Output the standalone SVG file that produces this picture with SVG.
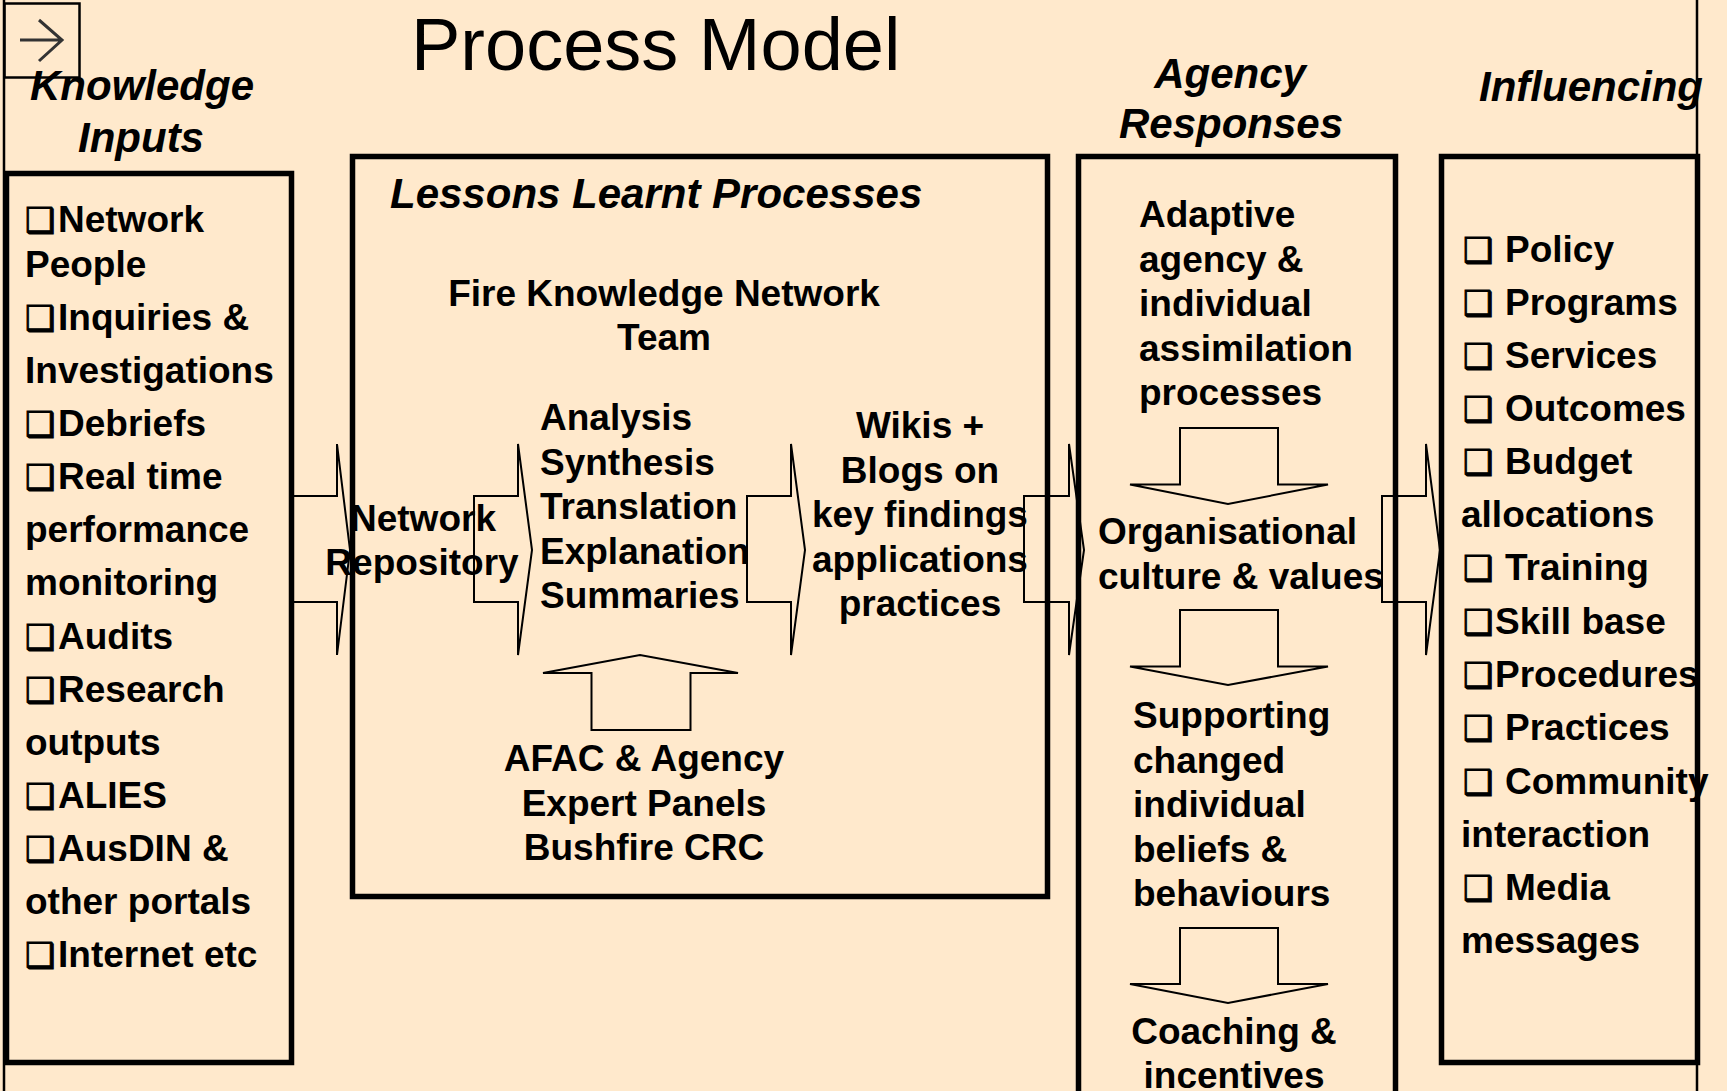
<svg xmlns="http://www.w3.org/2000/svg" width="1727" height="1091" viewBox="0 0 1727 1091">
<style>
text{font-family:"Liberation Sans",Arial,sans-serif;fill:#000}
.t{font-size:37px;font-weight:bold}
.h{font-size:42px;font-weight:bold;font-style:italic}
.c{text-anchor:middle}
.bul{font-family:"DejaVu Sans",sans-serif;font-weight:bold;font-size:34px;stroke:#000;stroke-width:1}
.box{fill:none;stroke:#000;stroke-width:5.5}
.blk{fill:none;stroke:#000;stroke-width:2;stroke-linejoin:miter}
.edge{stroke:#000;stroke-width:2.5}
</style>
<rect x="0" y="0" width="1727" height="1091" fill="#FFE9CC"/>
<line class="edge" x1="4" y1="0" x2="4" y2="1091"/>
<line class="edge" x1="1697" y1="0" x2="1697" y2="1091"/>

<g id="nav-button">
<rect x="4.5" y="3.5" width="75" height="74" fill="none" stroke="#000" stroke-width="2.5"/>
<path d="M20 40 H62 M39 20 L62 40 L39 61" fill="none" stroke="#333" stroke-width="3"/>
</g>

<g id="title">
<text x="411" y="70" font-size="74">Process Model</text>
</g>

<g id="header-knowledge">
<text class="h c" x="142" y="100">Knowledge</text>
<text class="h c" x="141" y="152">Inputs</text>
</g>
<g id="header-agency">
<text class="h c" x="1230" y="88">Agency</text>
<text class="h c" x="1231" y="138">Responses</text>
</g>
<g id="header-influencing">
<text class="h c" x="1591" y="101">Influencing</text>
</g>

<g id="connectors">
<polygon class="blk" points="293,496 337,496 337,444 350,550 337,655 337,602 293,602"/>
<polygon class="blk" points="474,496 518,496 518,444 532,550 518,655 518,602 474,602"/>
<polygon class="blk" points="747,496 791,496 791,444 805,550 791,655 791,602 747,602"/>
<polygon class="blk" points="1024,496 1069,496 1069,444 1084,550 1069,655 1069,602 1024,602"/>
<polygon class="blk" points="1382,496 1426,496 1426,444 1440,550 1426,655 1426,602 1382,602"/>
<polygon class="blk" points="591.5,730 690.5,730 690.5,673 738,673 640,655 543,673 591.5,673"/>
<polygon class="blk" points="1180,428 1278,428 1278,484.5 1328,484.5 1228,504 1130,484.5 1180,484.5"/>
<polygon class="blk" points="1180,610 1278,610 1278,666.5 1328,666.5 1228,685 1130,666.5 1180,666.5"/>
<polygon class="blk" points="1180,928 1278,928 1278,984 1328,984 1228,1003 1130,984 1180,984"/>
</g>

<g id="knowledge-inputs">
<rect class="box" x="6.5" y="173.5" width="285" height="889"/>
<text class="t" y="232"><tspan class="bul" x="25">❑</tspan><tspan x="58">Network</tspan></text>
<text class="t" x="25" y="277">People</text>
<text class="t" y="330"><tspan class="bul" x="25">❑</tspan><tspan x="58">Inquiries &amp;</tspan></text>
<text class="t" x="25" y="383">Investigations</text>
<text class="t" y="436"><tspan class="bul" x="25">❑</tspan><tspan x="58">Debriefs</tspan></text>
<text class="t" y="489"><tspan class="bul" x="25">❑</tspan><tspan x="58">Real time</tspan></text>
<text class="t" x="25" y="542">performance</text>
<text class="t" x="25" y="595">monitoring</text>
<text class="t" y="649"><tspan class="bul" x="25">❑</tspan><tspan x="58">Audits</tspan></text>
<text class="t" y="702"><tspan class="bul" x="25">❑</tspan><tspan x="58">Research</tspan></text>
<text class="t" x="25" y="755">outputs</text>
<text class="t" y="808"><tspan class="bul" x="25">❑</tspan><tspan x="58">ALIES</tspan></text>
<text class="t" y="861"><tspan class="bul" x="25">❑</tspan><tspan x="58">AusDIN &amp;</tspan></text>
<text class="t" x="25" y="914">other portals</text>
<text class="t" y="967"><tspan class="bul" x="25">❑</tspan><tspan x="58">Internet etc</tspan></text>
</g>

<g id="lessons-learnt">
<rect class="box" x="352.5" y="156.5" width="695" height="740"/>
<text class="h" x="390" y="208">Lessons Learnt Processes</text>
<text class="t c" x="664" y="306">Fire Knowledge Network</text>
<text class="t c" x="664" y="350">Team</text>
</g>

<g id="network-repository">
<text class="t c" x="423" y="531">Network</text>
<text class="t c" x="422" y="575">Repository</text>
</g>

<g id="analysis">
<text class="t" x="540" y="430">Analysis</text>
<text class="t" x="540" y="474.5">Synthesis</text>
<text class="t" x="540" y="519">Translation</text>
<text class="t" x="540" y="563.5">Explanation</text>
<text class="t" x="540" y="608">Summaries</text>
</g>

<g id="wikis-blogs">
<text class="t c" x="920" y="438">Wikis +</text>
<text class="t c" x="920" y="482.5">Blogs on</text>
<text class="t c" x="920" y="527">key findings</text>
<text class="t c" x="920" y="571.5">applications</text>
<text class="t c" x="920" y="616">practices</text>
</g>

<g id="expert-panels">
<text class="t c" x="644" y="771">AFAC &amp; Agency</text>
<text class="t c" x="644" y="816">Expert Panels</text>
<text class="t c" x="644" y="860">Bushfire CRC</text>
</g>

<g id="agency-responses">
<rect class="box" x="1078.5" y="156.5" width="317" height="1000"/>
</g>
<g id="adaptive">
<text class="t" x="1139" y="227">Adaptive</text>
<text class="t" x="1139" y="271.5">agency &amp;</text>
<text class="t" x="1139" y="316">individual</text>
<text class="t" x="1139" y="360.5">assimilation</text>
<text class="t" x="1139" y="405">processes</text>
</g>
<g id="organisational">
<text class="t" x="1098" y="544">Organisational</text>
<text class="t" x="1098" y="588.5">culture &amp; values</text>
</g>
<g id="supporting">
<text class="t" x="1133" y="728">Supporting</text>
<text class="t" x="1133" y="772.5">changed</text>
<text class="t" x="1133" y="817">individual</text>
<text class="t" x="1133" y="861.5">beliefs &amp;</text>
<text class="t" x="1133" y="906">behaviours</text>
</g>
<g id="coaching">
<text class="t c" x="1234" y="1044">Coaching &amp;</text>
<text class="t c" x="1234" y="1088">incentives</text>
</g>

<g id="influencing">
<rect class="box" x="1441.5" y="156.5" width="256" height="906"/>
<text class="t" y="262"><tspan class="bul" x="1463">❑</tspan><tspan x="1505">Policy</tspan></text>
<text class="t" y="315"><tspan class="bul" x="1463">❑</tspan><tspan x="1505">Programs</tspan></text>
<text class="t" y="368"><tspan class="bul" x="1463">❑</tspan><tspan x="1505">Services</tspan></text>
<text class="t" y="421"><tspan class="bul" x="1463">❑</tspan><tspan x="1505">Outcomes</tspan></text>
<text class="t" y="474"><tspan class="bul" x="1463">❑</tspan><tspan x="1505">Budget</tspan></text>
<text class="t" x="1461" y="527">allocations</text>
<text class="t" y="580"><tspan class="bul" x="1463">❑</tspan><tspan x="1505">Training</tspan></text>
<text class="t" y="634"><tspan class="bul" x="1463">❑</tspan><tspan x="1495">Skill base</tspan></text>
<text class="t" y="687"><tspan class="bul" x="1463">❑</tspan><tspan x="1495">Procedures</tspan></text>
<text class="t" y="740"><tspan class="bul" x="1463">❑</tspan><tspan x="1505">Practices</tspan></text>
<text class="t" y="794"><tspan class="bul" x="1463">❑</tspan><tspan x="1505">Community</tspan></text>
<text class="t" x="1461" y="847">interaction</text>
<text class="t" y="900"><tspan class="bul" x="1463">❑</tspan><tspan x="1505">Media</tspan></text>
<text class="t" x="1461" y="953">messages</text>
</g>
</svg>
